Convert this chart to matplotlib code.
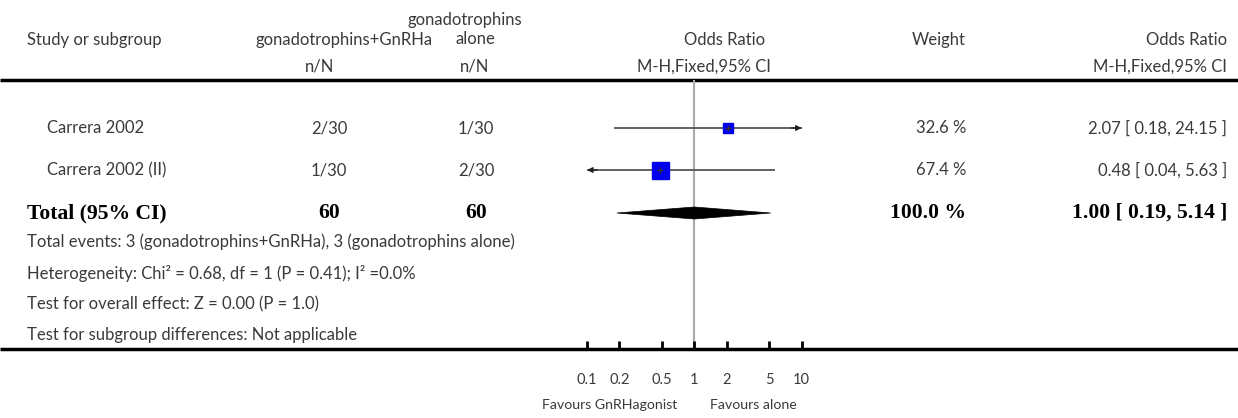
import matplotlib
matplotlib.use("Agg")
import matplotlib.pyplot as plt
from matplotlib.patches import Polygon

# ---------------- data ----------------
studies = ["Carrera 2002", "Carrera 2002 (II)"]
treat_nN = ["2/30", "1/30"]
ctrl_nN = ["1/30", "2/30"]
or_est = [2.07, 0.48]
ci_low = [0.18, 0.04]
ci_high = [24.15, 5.63]
weights = [32.6, 67.4]
total_treat = 60
total_ctrl = 60
total_or = 1.00
total_low = 0.19
total_high = 5.14
total_weight = 100.0
xticks = [0.1, 0.2, 0.5, 1, 2, 5, 10]
xtick_labels = ["0.1", "0.2", "0.5", "1", "2", "5", "10"]
footnotes = [
    "Total events: 3 (gonadotrophins+GnRHa), 3 (gonadotrophins alone)",
    "Heterogeneity: Chi\u00b2 = 0.68, df = 1 (P = 0.41); I\u00b2 =0.0%",
    "Test for overall effect: Z = 0.00 (P = 1.0)",
    "Test for subgroup differences: Not applicable",
]

W, H = 1238, 418
fig = plt.figure(figsize=(W / 100, H / 100), dpi=100)
bg = fig.add_axes([0, 0, 1, 1])
bg.set_xlim(0, W)
bg.set_ylim(H, 0)
bg.axis("off")

SANS = ["Lato", "DejaVu Sans"]
SERIF = ["Liberation Serif", "DejaVu Serif"]
TC = "#3a3a3a"
FS = 12.0


def T(x, y, s, ha="left", bold=False, size=None, color=TC):
    if bold:
        bg.text(x, y, s, ha=ha, va="center", fontsize=size or 15.6, fontweight="bold",
                family=SERIF, color="black")
    else:
        bg.text(x, y, s, ha=ha, va="center", fontsize=size or FS, family=SANS,
                fontweight="normal", color=color)


# header
T(27, 40, "Study or subgroup")
T(344, 40, "gonadotrophins+GnRHa", ha="center")
T(465, 20, "gonadotrophins", ha="center")
T(475, 39, "alone", ha="center")
T(725, 40, "Odds Ratio", ha="center")
T(966, 40, "Weight", ha="right")
T(1227, 40, "Odds Ratio", ha="right")
T(320, 67, "n/N", ha="center")
T(475, 67, "n/N", ha="center")
T(704, 67, "M-H,Fixed,95% CI", ha="center")
T(1227, 67, "M-H,Fixed,95% CI", ha="right")

bg.plot([0, W], [80, 80], color="black", lw=2.5, solid_capstyle="butt")
bg.plot([0, W], [349, 349], color="black", lw=2.5, solid_capstyle="butt")

row_y = [128, 170]
for i, y in enumerate(row_y):
    T(47, y, studies[i])
    T(329, y, treat_nN[i], ha="center")
    T(476, y, ctrl_nN[i], ha="center")
    T(966, y, f"{weights[i]:.1f} %", ha="right")
    T(1227, y, f"{or_est[i]:.2f} [ {ci_low[i]:.2f}, {ci_high[i]:.2f} ]", ha="right")

ty = 213
T(27, ty, "Total (95% CI)", bold=True)
T(329, ty, str(total_treat), ha="center", bold=True)
T(476, ty, str(total_ctrl), ha="center", bold=True)
T(966, ty, f"{total_weight:.1f} %", ha="right", bold=True)
T(1227, ty, f"{total_or:.2f} [ {total_low:.2f}, {total_high:.2f} ]", ha="right", bold=True)

for s, y in zip(footnotes, [242, 273, 304, 335]):
    T(27, y, s)

# forest axes: x from 0.1 (px 587) to 10 (px 801.7); y in pixel rows
x0, x1 = 587.0, 801.7
ax = fig.add_axes([x0 / W, 1 - 349 / H, (x1 - x0) / W, (349 - 80) / H])
ax.set_xscale("log")
ax.set_xlim(0.1, 10)
ax.set_ylim(349, 80)
ax.patch.set_alpha(0)
for sp in ax.spines.values():
    sp.set_visible(False)
ax.set_yticks([])
ax.set_xticks(xticks)
ax.set_xticklabels(xtick_labels, family=SANS, fontsize=10.5, color=TC)
ax.xaxis.set_minor_locator(matplotlib.ticker.NullLocator())
ax.tick_params(axis="x", direction="in", length=6, width=2, pad=17, color="black")

ax.axvline(1, color="#aaaaaa", lw=1.5, zorder=1)

sizes = [10, 17]
for i, y in enumerate(row_y):
    lo = max(ci_low[i], 0.1)
    hi = min(ci_high[i], 10)
    ax.plot([lo, hi], [y, y], color="#555555", lw=1.3, zorder=2, solid_capstyle="butt")
    if ci_high[i] > 10:
        ax.annotate("", xy=(10, y), xytext=(8.0, y),
                    arrowprops=dict(arrowstyle="-|>", color="#222222", lw=1.0,
                                    mutation_scale=8, shrinkA=0, shrinkB=0), zorder=3)
    if ci_low[i] < 0.1:
        ax.annotate("", xy=(0.1, y), xytext=(0.125, y),
                    arrowprops=dict(arrowstyle="-|>", color="#222222", lw=1.0,
                                    mutation_scale=8, shrinkA=0, shrinkB=0), zorder=3)
    ax.plot([or_est[i]], [y], marker="s", ms=sizes[i] * 0.72, color="#0000ee",
            mec="#0000ee", zorder=4, linestyle="none")
    ax.plot([or_est[i]], [y], marker="+", ms=4, color="#333333", mew=1.0,
            zorder=5, linestyle="none")

diamond = Polygon([[total_low, ty], [total_or, ty - 6], [total_high, ty], [total_or, ty + 6]],
                  closed=True, facecolor="black", edgecolor="black", lw=0.5, zorder=4)
ax.add_patch(diamond)

T(677, 405, "Favours GnRHagonist", ha="right", size=10.2)
T(710, 405, "Favours alone", ha="left", size=10.2)

fig.savefig("out.png", dpi=100)
